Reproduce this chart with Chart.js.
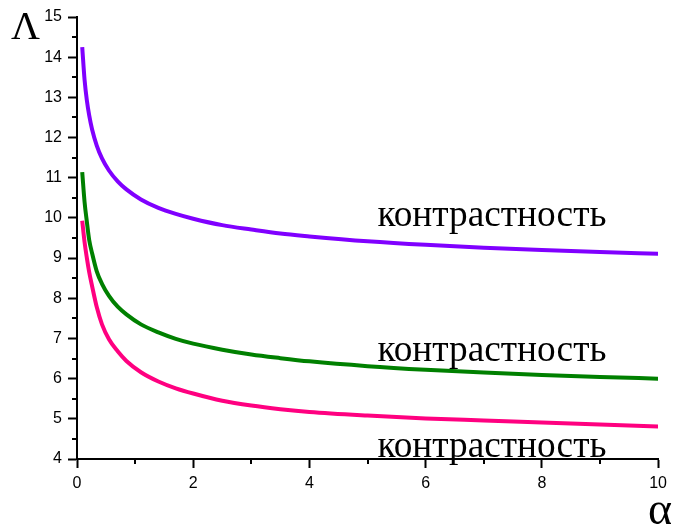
<!DOCTYPE html>
<html>
<head>
<meta charset="utf-8">
<script src="https://cdn.jsdelivr.net/npm/chart.js@4"></script>
<style>
  html, body { margin: 0; padding: 0; background: #fff; }
  #wrap { width: 673px; height: 527px; }
</style>
</head>
<body>
<div id="wrap"><canvas id="c" width="673" height="527"></canvas></div>
<script>
// α values shared by all three curves
const alphaValues = [0.09, 0.13, 0.17, 0.21, 0.26, 0.34, 0.43, 0.55, 0.7, 0.85, 1.1, 1.4, 1.7, 2.0, 2.5, 3.0, 3.5, 4.0, 5.0, 6.0, 7.0, 8.0, 9.0, 10.0];

// Λ(α) for each curve
const purpleCurve = [14.25, 13.44, 12.92, 12.55, 12.20, 11.80, 11.48, 11.18, 10.91, 10.71, 10.46, 10.25, 10.10, 9.98, 9.82, 9.71, 9.61, 9.54, 9.42, 9.33, 9.26, 9.20, 9.15, 9.11];
const greenCurve  = [11.14, 10.40, 9.90, 9.45, 9.12, 8.67, 8.36, 8.06, 7.79, 7.60, 7.35, 7.15, 6.99, 6.87, 6.72, 6.60, 6.51, 6.43, 6.31, 6.22, 6.15, 6.09, 6.04, 6.00];
const pinkCurve   = [9.93, 9.40, 9.00, 8.65, 8.30, 7.78, 7.35, 6.98, 6.68, 6.44, 6.16, 5.93, 5.76, 5.63, 5.45, 5.33, 5.24, 5.17, 5.08, 5.01, 4.96, 4.91, 4.86, 4.81];

// Curve captions, anchored in data coordinates (left edge, baseline)
const captionText = ['контрастность', 'контрастность', 'контрастность'];
const captionX = [5.17, 5.17, 5.17];
const captionY = [9.79, 6.44, 4.05];

// Axis ranges and tick steps
const xMin = 0, xMax = 10, xStep = 2, xMinorStep = 1;
const yMin = 4, yMax = 15, yStep = 1, yMinorStep = 0.5;

const toPoints = ys => alphaValues.map((x, i) => ({ x: x, y: ys[i] }));

const SANS = '"Liberation Sans", Arial, sans-serif';
const SERIF = '"Liberation Serif", "Times New Roman", serif';

// Short minor ticks and the free-standing text
const extras = {
  id: 'extras',
  afterDraw(chart) {
    const ctx = chart.ctx;
    const xs = chart.scales.x, ys = chart.scales.y;
    const area = chart.chartArea;
    ctx.save();
    ctx.strokeStyle = '#000';
    ctx.lineWidth = 2;
    ctx.beginPath();
    for (let v = xMin + xMinorStep; v < xMax; v += 2 * xMinorStep) {
      const px = Math.round(xs.getPixelForValue(v));
      ctx.moveTo(px, area.bottom);
      ctx.lineTo(px, area.bottom + 5);
    }
    for (let v = yMin + yMinorStep; v < yMax; v += 2 * yMinorStep) {
      const py = Math.round(ys.getPixelForValue(v));
      ctx.moveTo(area.left, py);
      ctx.lineTo(area.left - 5, py);
    }
    ctx.stroke();

    ctx.fillStyle = '#000';
    ctx.textBaseline = 'alphabetic';
    ctx.textAlign = 'left';
    ctx.font = '38px ' + SERIF;
    const captionWidth = 229;
    captionText.forEach((t, i) => {
      const w = ctx.measureText(t).width;
      ctx.save();
      ctx.translate(xs.getPixelForValue(captionX[i]), ys.getPixelForValue(captionY[i]));
      ctx.scale(captionWidth / w, 1);
      ctx.fillText(t, 0, 0);
      ctx.restore();
    });

    ctx.font = '40px ' + SERIF;
    ctx.fillText('Λ', 11, 39);
    ctx.font = '46px ' + SERIF;
    ctx.fillText('α', 648, 524);
    ctx.restore();
  }
};

new Chart(document.getElementById('c'), {
  type: 'line',
  data: {
    datasets: [
      { data: toPoints(purpleCurve), borderColor: '#8000ff' },
      { data: toPoints(greenCurve),  borderColor: '#008000' },
      { data: toPoints(pinkCurve),   borderColor: '#ff0080' }
    ]
  },
  options: {
    responsive: false,
    animation: false,
    devicePixelRatio: 1,
    layout: { padding: { top: 17, right: 14, left: 0, bottom: 0 } },
    elements: {
      line: { borderWidth: 4, cubicInterpolationMode: 'monotone', fill: false },
      point: { radius: 0, hoverRadius: 0 }
    },
    plugins: { legend: { display: false }, tooltip: { enabled: false } },
    scales: {
      x: {
        type: 'linear', min: xMin, max: xMax,
        afterFit(scale) { scale.height = 68; },
        ticks: { stepSize: xStep, color: '#000', font: { family: SANS, size: 16 }, padding: 6, maxRotation: 0 },
        grid: { drawOnChartArea: false, drawTicks: true, tickLength: 9, tickColor: '#000', tickWidth: 2 },
        border: { display: true, color: '#000', width: 2 }
      },
      y: {
        type: 'linear', min: yMin, max: yMax,
        afterFit(scale) { scale.width = 77; },
        ticks: { stepSize: yStep, color: '#000', font: { family: SANS, size: 16 }, padding: 6 },
        grid: { drawOnChartArea: false, drawTicks: true, tickLength: 9, tickColor: '#000', tickWidth: 2 },
        border: { display: true, color: '#000', width: 2 }
      }
    }
  },
  plugins: [extras]
});
</script>
</body>
</html>
